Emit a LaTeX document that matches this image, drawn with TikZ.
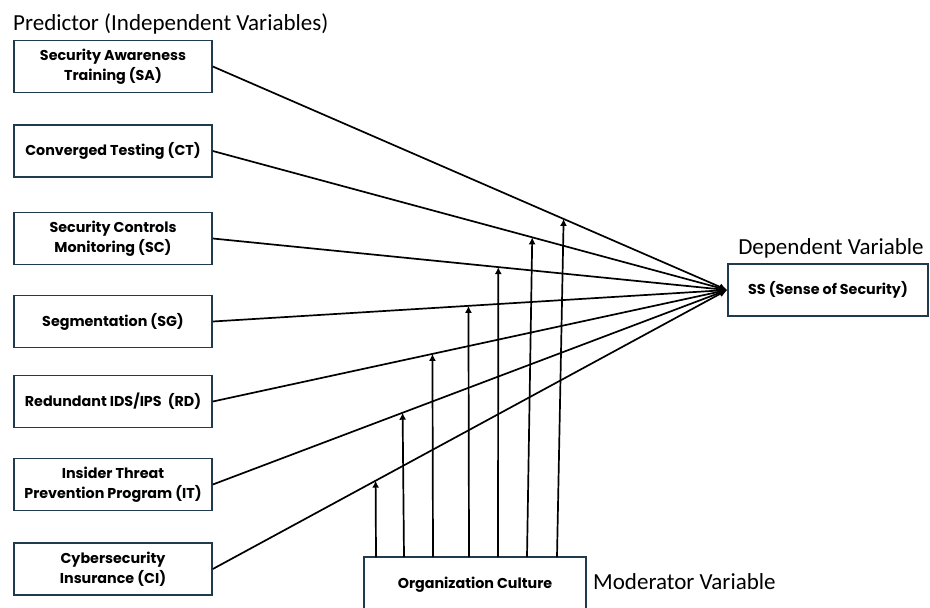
\documentclass[tikz,border=0pt]{standalone}
\usepackage{fontspec}
\setmainfont{Carlito}
\newfontfamily\boxfont{Poppins}
\usetikzlibrary{arrows.meta,calc}
\definecolor{boxc}{HTML}{1F3B4D}
\tikzset{
  vbox/.style={draw=boxc, line width=1.6pt, inner sep=0pt, minimum width=198pt, minimum height=52pt, align=center, font=\boxfont\bfseries\fontsize{14.3}{20}\selectfont},
  conn/.style={line width=1.7pt, -{Latex[length=8pt,width=7pt]}},
  modarrow/.style={line width=1.7pt, -{Latex[length=7pt,width=7pt]}},
  lbl/.style={font=\fontsize{23}{26}\selectfont, inner sep=0pt}
}
\begin{document}
\begin{tikzpicture}[x=1pt,y=-1pt]
\useasboundingbox (0,0) rectangle (930,608);
\fill[white] (0,0) rectangle (930,608);
\node[lbl, anchor=west] (pred) at (13,24) {Predictor (Independent Variables)};
\node[vbox] (SA) at (113,66.5) {Security Awareness\\Training (SA)};
\node[vbox] (CT) at (113,151) {Converged Testing (CT)};
\node[vbox] (SC) at (113,238.5) {Security Controls\\Monitoring (SC)};
\node[vbox] (SG) at (113,321.5) {Segmentation (SG)};
\node[vbox] (RD) at (113,401.5) {Redundant IDS/IPS\ \ (RD)};
\node[vbox] (IT) at (113,484.5) {Insider Threat\\Prevention Program (IT)};
\node[vbox] (CI) at (113,569) {Cybersecurity\\Insurance (CI)};
\node[vbox, minimum width=200pt] (SS) at (828,290) {SS (Sense of Security)};
\node[lbl] (dep) at (831,248) {Dependent Variable};
\node[vbox, minimum width=222pt, minimum height=56pt] (OC) at (475,585) {Organization Culture};
\node[lbl, anchor=west] (mod) at (593,582) {Moderator Variable};
\foreach \b in {SA,CT,SC,SG,RD,IT,CI}{
  \draw[conn] (\b.east) -- (SS.west);
}
\coordinate (m1b) at (376,557);
\coordinate (m2b) at (404,557);
\coordinate (m3b) at (433,557);
\coordinate (m4b) at (469,557);
\coordinate (m5b) at (498,557);
\coordinate (m6b) at (527,557);
\coordinate (m7b) at (557,557);
\coordinate (m1t) at ($(CI.east)!0.3165!(SS.west)$);
\coordinate (m2t) at ($(IT.east)!0.369!(SS.west)$);
\coordinate (m3t) at ($(RD.east)!0.427!(SS.west)$);
\coordinate (m4t) at ($(SG.east)!0.497!(SS.west)$);
\coordinate (m5t) at ($(SC.east)!0.555!(SS.west)$);
\coordinate (m6t) at ($(CT.east)!0.621!(SS.west)$);
\coordinate (m7t) at ($(SA.east)!0.682!(SS.west)$);
\foreach \i in {1,...,7}{
  \draw[modarrow] (m\i b) -- (m\i t);
}
\end{tikzpicture}
\end{document}
